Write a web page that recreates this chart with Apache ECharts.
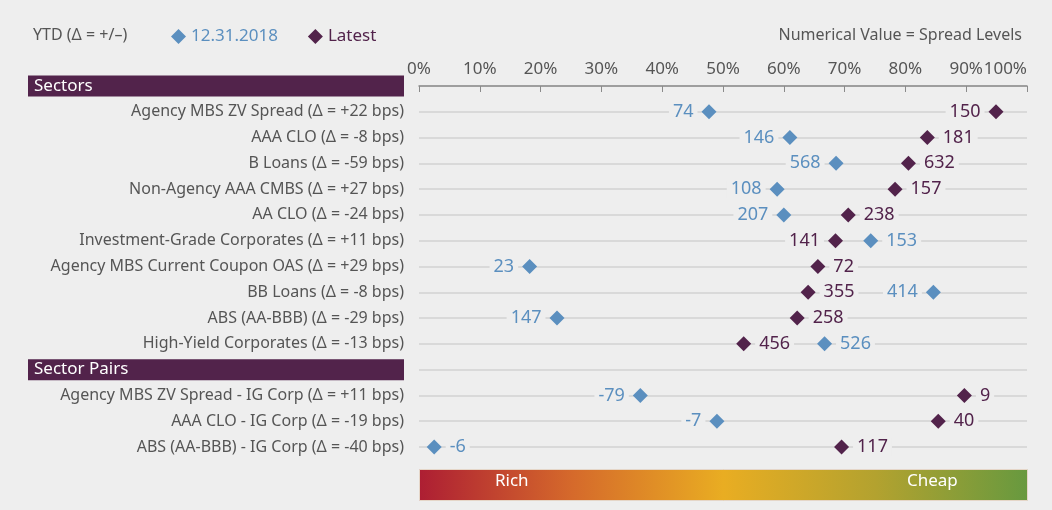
<!DOCTYPE html>
<html lang="en">
<head>
<meta charset="UTF-8">
<title>Spread percentiles</title>
<script src="https://cdn.jsdelivr.net/npm/echarts@6/dist/echarts.min.js"></script>
<style>
  html, body { margin: 0; padding: 0; background: #eeeeee; }
  #chart { width: 1052px; height: 510px; }
</style>
</head>
<body>
<div id="chart"></div>
<script>
// rows, top to bottom (header rows have no points)
var categories = [
  'Sectors',
  'Agency MBS ZV Spread (Δ = +22 bps)',
  'AAA CLO (Δ = -8 bps)',
  'B Loans (Δ = -59 bps)',
  'Non-Agency AAA CMBS (Δ = +27 bps)',
  'AA CLO (Δ = -24 bps)',
  'Investment-Grade Corporates (Δ = +11 bps)',
  'Agency MBS Current Coupon OAS (Δ = +29 bps)',
  'BB Loans (Δ = -8 bps)',
  'ABS (AA-BBB) (Δ = -29 bps)',
  'High-Yield Corporates (Δ = -13 bps)',
  'Sector Pairs',
  'Agency MBS ZV Spread - IG Corp (Δ = +11 bps)',
  'AAA CLO - IG Corp (Δ = -19 bps)',
  'ABS (AA-BBB) - IG Corp (Δ = -40 bps)'
];
var headerRows = ['Sectors', 'Sector Pairs'];

// percentile position (%) and spread level (bps)
var prevPct      = [null, 47.7, 61.0, 68.6, 58.9, 60.0, 74.3, 18.2, 84.6, 22.7, 66.7, null, 36.4, 49.0, 2.5];
var prevSpread   = [null, 74, 146, 568, 108, 207, 153, 23, 414, 147, 526, null, -79, -7, -6];
var latestPct    = [null, 94.9, 83.6, 80.5, 78.3, 70.6, 68.5, 65.6, 64.0, 62.2, 53.4, null, 89.7, 85.4, 69.5];
var latestSpread = [null, 150, 181, 632, 157, 238, 141, 72, 355, 258, 456, null, 9, 40, 117];

var xTicks = [0, 10, 20, 30, 40, 50, 60, 70, 80, 90, 100];

var BLUE = '#5b8fbf';
var PURPLE = '#52234b';
var GREY = '#555555';
var BG = '#eeeeee';
var FONT = "'Noto Sans', sans-serif";

// which side the value label sits on, so labels don't collide
function prevSide(i) {
  var p = prevPct[i], l = latestPct[i];
  if (p < 5 || (p > l && p - l < 15)) return 'right';
  return 'left';
}
function latestSide(i) {
  var p = prevPct[i], l = latestPct[i];
  if (l > 90 || (p > l && p - l < 10)) return 'left';
  return 'right';
}

function buildData(pct, spread, sideFn, color) {
  var out = [];
  for (var i = 0; i < categories.length; i++) {
    if (pct[i] == null) continue;
    out.push({
      value: [pct[i], categories[i], spread[i]],
      label: {
        show: true,
        position: sideFn(i),
        distance: 4,
        color: color,
        fontSize: 18,
        fontFamily: FONT,
        backgroundColor: BG,
        padding: [0, 4],
        formatter: function (p) { return p.value[2]; }
      }
    });
  }
  return out;
}

var chart = echarts.init(document.getElementById('chart'));

var option = {
  backgroundColor: BG,
  animation: false,
  title: [
    { text: 'YTD (Δ = +/–)', left: 28, top: 22,
      textStyle: { color: GREY, fontSize: 16, fontWeight: 'normal', fontFamily: FONT } },
    { text: 'Numerical Value = Spread Levels', right: 25, top: 22,
      textStyle: { color: GREY, fontSize: 16, fontWeight: 'normal', fontFamily: FONT } }
  ],
  legend: {
    left: 166, top: 23,
    itemWidth: 15, itemHeight: 15, itemGap: 30,
    icon: 'diamond',
    itemStyle: { opacity: 1 },
    data: [
      { name: '12.31.2018', textStyle: { color: BLUE } },
      { name: 'Latest', textStyle: { color: PURPLE } }
    ],
    textStyle: { fontSize: 17, fontFamily: FONT }
  },
  grid: { left: 419, right: 25, top: 86, bottom: 63 },
  xAxis: {
    type: 'value', position: 'top',
    min: 0, max: 100, interval: 10,
    axisLine: { show: true, lineStyle: { color: '#8a8a8a', width: 1.5 } },
    axisTick: { show: true, inside: true, length: 6, lineStyle: { color: '#8a8a8a' } },
    splitLine: { show: false },
    axisLabel: {
      color: GREY, fontSize: 17, fontFamily: FONT, margin: 8,
      alignMaxLabel: 'right',
      formatter: function (v) { return xTicks.indexOf(v) >= 0 ? v + '%' : ''; }
    }
  },
  yAxis: {
    type: 'category', inverse: true, boundaryGap: false,
    data: categories,
    axisLine: { show: false },
    axisTick: { show: false },
    splitLine: { show: true, lineStyle: { color: '#d2d2d2', width: 1.5 } },
    axisLabel: {
      margin: 15, color: GREY, fontSize: 16, fontFamily: FONT,
      formatter: function (v) {
        if (headerRows.indexOf(v) >= 0) return '{h|' + v + '}';
        return v;
      },
      rich: {
        h: {
          color: '#ffffff', backgroundColor: PURPLE, fontSize: 17, fontFamily: FONT,
          width: 370, height: 21, lineHeight: 21, align: 'left', padding: [0, 0, 0, 6]
        }
      }
    }
  },
  series: [
    {
      name: '12.31.2018', type: 'scatter', symbol: 'diamond', symbolSize: 15,
      itemStyle: { color: BLUE, opacity: 1 }, z: 3,
      data: buildData(prevPct, prevSpread, prevSide, BLUE)
    },
    {
      name: 'Latest', type: 'scatter', symbol: 'diamond', symbolSize: 15,
      itemStyle: { color: PURPLE, opacity: 1 }, z: 4,
      data: buildData(latestPct, latestSpread, latestSide, PURPLE)
    }
  ],
  graphic: [
    {
      type: 'rect', left: 419, top: 469, z: 10,
      shape: { width: 608, height: 31 },
      style: {
        fill: new echarts.graphic.LinearGradient(0, 0, 1, 0, [
          { offset: 0, color: '#ad1e33' },
          { offset: 0.25, color: '#d5692b' },
          { offset: 0.5, color: '#e9ad22' },
          { offset: 0.75, color: '#b3a22f' },
          { offset: 1, color: '#67993f' }
        ]),
        stroke: '#e5d6c8', lineWidth: 1
      }
    },
    { type: 'text', left: 495, top: 473, z: 11,
      style: { text: 'Rich', fill: '#ffffff', fontSize: 17, fontFamily: FONT } },
    { type: 'text', left: 907, top: 473, z: 11,
      style: { text: 'Cheap', fill: '#ffffff', fontSize: 17, fontFamily: FONT } }
  ]
};

chart.setOption(option);
</script>
</body>
</html>
